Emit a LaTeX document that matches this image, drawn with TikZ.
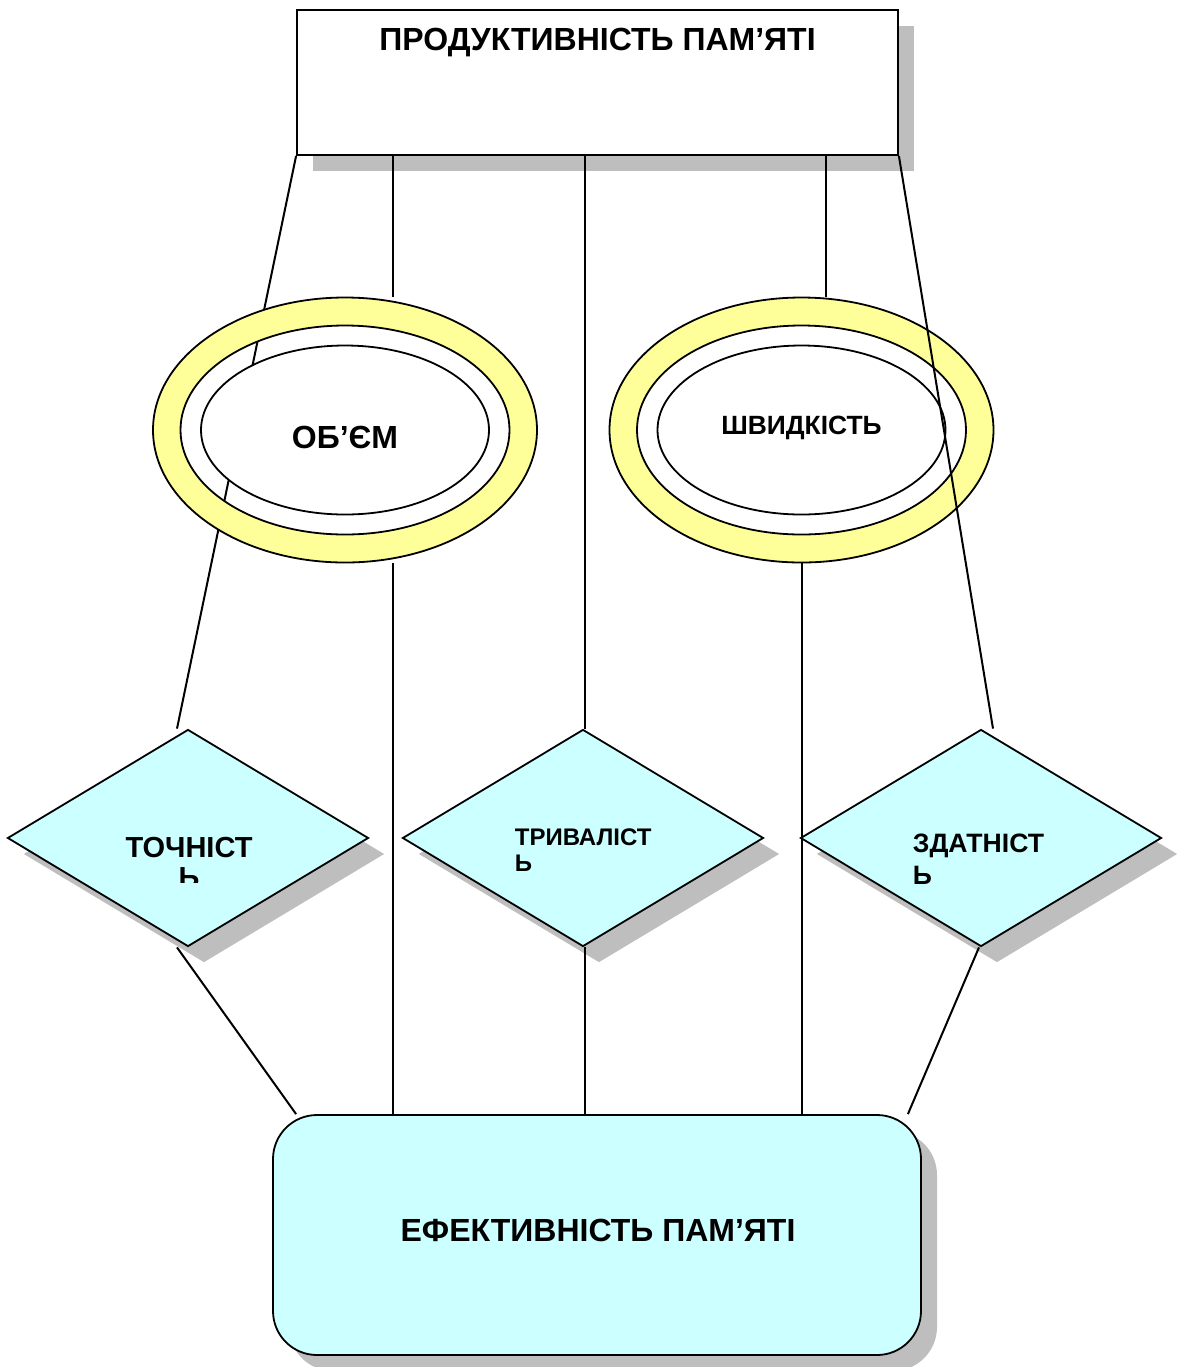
\documentclass[tikz,border=0pt]{standalone}
\usepackage{fontspec}
\setmainfont{Liberation Sans}
\usepackage{xcolor}
\definecolor{Pale Yellow}{HTML}{FFFF99}
\definecolor{Pale Cyan}{HTML}{CCFFFF}
\definecolor{Shadow Grey}{HTML}{BEBEBE}
\colorlet{cYellow}{Pale Yellow}
\colorlet{cCyan}{Pale Cyan}
\colorlet{cShadow}{Shadow Grey}
\usetikzlibrary{calc, positioning, shapes.geometric, shadows}
\tikzset{
	font = \bfseries,
	boxshadow/.style={
		drop shadow={shadow xshift=8pt, shadow yshift=-8pt, fill=cShadow, opacity=1}
	},
	headbox/.style={
		draw,
		fill=white,
		boxshadow,
		minimum width=300.5pt,
		minimum height=72.5pt,
		inner sep=0pt
	},
	footbox/.style={
		draw,
		fill=cCyan,
		boxshadow,
		rounded corners=22pt,
		minimum width=324pt,
		minimum height=120pt,
		inner sep=0pt
	},
	ring/.style={
		draw,
		ellipse,
		minimum width=192pt,
		minimum height=132.5pt,
		inner sep=0pt
	},
	ringgap/.style={
		draw,
		ellipse,
		minimum width=164.5pt,
		minimum height=104.5pt,
		inner sep=0pt
	},
	core/.style={
		draw,
		ellipse,
		fill=white,
		minimum width=144pt,
		minimum height=84.5pt,
		inner sep=0pt
	},
	rhomb/.style={
		draw,
		diamond,
		fill=cCyan,
		boxshadow,
		minimum width=180.5pt,
		minimum height=108.5pt,
		inner sep=0pt
	},
	caption/.style={
		inner sep=0pt,
		align=left
	},
	link/.style={
		line width=1pt
	}
}

\begin{document}
\begin{tikzpicture}[x=0.5pt, y=-0.5pt, line width=.9pt]
\useasboundingbox (0,0) rectangle (1181,1367);

% ---
% boxes
% ---
\node[headbox] (prod) at (597.5,82.5) {};
\node[caption, below=9pt of prod.north, font=\bfseries\fontsize{16}{19}\selectfont] (prod-text) {ПРОДУКТИВНІСТЬ ПАМ’ЯТІ};

\node[rhomb] (tochnist) at (188,838) {};
\node[rhomb] (tryvalist) at (583,838) {};
\node[rhomb] (zdatnist) at (981,838) {};

\node[footbox] (efekt) at (597,1235) {};
\node[caption, font=\bfseries\fontsize{16}{19}\selectfont] (efekt-text) at (598,1230) {ЕФЕКТИВНІСТЬ ПАМ’ЯТІ};

% line behind the left ring
\draw[link] (prod.south west) -- ([xshift=-5.5pt]tochnist.north);

% ---
% rings
% ---
\fill[cYellow, even odd rule] (345,430) ellipse (96pt and 66.25pt) (345,430) ellipse (82.25pt and 52.25pt);
\node[ring] (obsyag-ring) at (345,430) {};
\node[ringgap] (obsyag-gap) at (345,430) {};
\node[core] (obsyag) at (345,430) {};
\node[caption, font=\bfseries\fontsize{16}{19}\selectfont] (obsyag-text) at (345,437) {ОБ’ЄМ};

\fill[cYellow, even odd rule] (801.5,430) ellipse (96.25pt and 66.25pt) (801.5,430) ellipse (82.25pt and 52.25pt);
\node[ring] (shvydkist-ring) at (801.5,430) {};
\node[ringgap] (shvydkist-gap) at (801.5,430) {};
\node[core] (shvydkist) at (801.5,430) {};
\node[caption, font=\bfseries\fontsize{13.2}{16}\selectfont] (shvydkist-text) at (801.5,428) {ШВИДКІСТЬ};

% ---
% links
% ---
\draw[link] ([xshift=24pt]obsyag-ring.north |- prod.south) -- ([xshift=24pt]obsyag-ring.north);
\draw[link] ([xshift=1pt]tryvalist.north |- prod.south) -- ([xshift=1pt]tryvalist.north);
\draw[link] ([xshift=12pt]shvydkist-ring.north |- prod.south) -- ([xshift=12pt]shvydkist-ring.north);
\draw[link] (prod.south east) -- ([xshift=6pt]zdatnist.north);

\draw[link] ([xshift=-5.5pt]tochnist.south) -- ([xshift=12pt]efekt.north west);
\draw[link] ([xshift=24pt]obsyag-ring.south) -- ([xshift=24pt]obsyag-ring.south |- efekt.north);
\draw[link] ([xshift=1pt]tryvalist.south) -- ([xshift=1pt]tryvalist.south |- efekt.north);
\draw[link] (shvydkist-ring.south) -- (shvydkist-ring.south |- efekt.north);
\draw[link] ([xshift=-1pt]zdatnist.south) -- ([xshift=-7pt]efekt.north east);

% ---
% diamond texts
% ---
\begin{scope}
	\clip (8,730) rectangle (369,882);
	\node[caption, align=center, anchor=north, font=\bfseries\fontsize{14.5}{15}\selectfont] (tochnist-text) at (189,836) {ТОЧНІСТ\\Ь};
\end{scope}
\node[caption, anchor=north west, font=\bfseries\fontsize{12}{13}\selectfont] (tryvalist-text) at (514,828) {ТРИВАЛІСТ\\Ь};
\node[caption, anchor=north west, font=\bfseries\fontsize{13.3}{16}\selectfont] (zdatnist-text) at (912,833) {ЗДАТНІСТ\\Ь};
\end{tikzpicture}
\end{document}
